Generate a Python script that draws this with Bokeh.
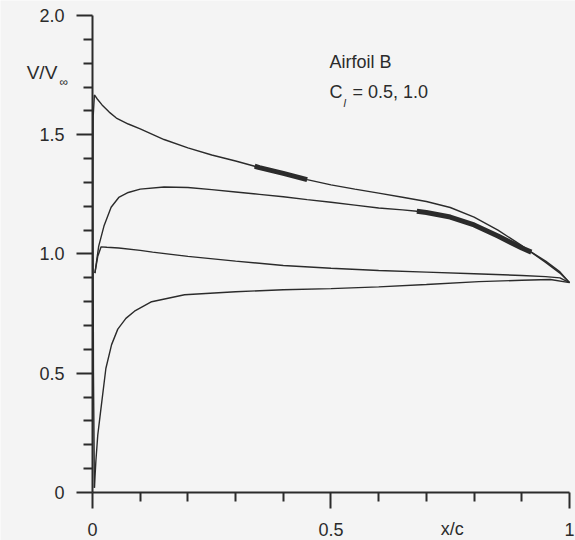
import numpy as np
from bokeh.plotting import figure
from bokeh.models import Range1d, FixedTicker, Label
from bokeh.embed import file_html
from bokeh.resources import INLINE

# ---- data (x/c, V/Vinf) ----
# Cl = 1.0, upper surface (starts at stagnation, runs up the leading edge)
cl10_upper_x = [0.004, 0.002, 0.001, 0.0015, 0.004, 0.01, 0.02, 0.035, 0.05, 0.075, 0.1, 0.15,
                0.2, 0.25, 0.3, 0.34, 0.35, 0.4, 0.45, 0.5, 0.55, 0.6, 0.65, 0.7, 0.75,
                0.8, 0.85, 0.9, 0.95, 0.98, 1.0]
cl10_upper_y = [0.02, 0.5, 1.2, 1.58, 1.667, 1.65, 1.625, 1.595, 1.57, 1.545, 1.525, 1.48,
                1.445, 1.415, 1.39, 1.368, 1.362, 1.338, 1.312, 1.29, 1.272, 1.255, 1.238, 1.22, 1.195,
                1.155, 1.1, 1.035, 0.965, 0.92, 0.88]
# Cl = 1.0, lower surface
cl10_lower_x = [0.004, 0.007, 0.011, 0.017, 0.028, 0.04, 0.053, 0.07, 0.088, 0.124, 0.193,
                0.3, 0.4, 0.5, 0.6, 0.7, 0.81, 0.9, 0.96, 1.0]
cl10_lower_y = [0.02, 0.13, 0.24, 0.34, 0.52, 0.62, 0.685, 0.73, 0.76, 0.80, 0.829,
                0.842, 0.85, 0.855, 0.862, 0.872, 0.884, 0.89, 0.893, 0.88]
# Cl = 0.5, upper surface
cl05_upper_x = [0.005, 0.013, 0.024, 0.039, 0.055, 0.075, 0.1, 0.15, 0.2, 0.25, 0.3, 0.35,
                0.4, 0.45, 0.5, 0.55, 0.6, 0.65, 0.68, 0.7, 0.75, 0.8, 0.85, 0.9, 0.92,
                0.95, 0.98, 1.0]
cl05_upper_y = [0.92, 1.033, 1.117, 1.196, 1.237, 1.258, 1.272, 1.281, 1.279, 1.27, 1.26, 1.25,
                1.24, 1.228, 1.217, 1.205, 1.193, 1.185, 1.179, 1.174, 1.155, 1.122, 1.075, 1.025, 1.008,
                0.97, 0.925, 0.88]
# Cl = 0.5, lower surface
cl05_lower_x = [0.005, 0.011, 0.018, 0.03, 0.055, 0.1, 0.126, 0.2, 0.3, 0.4, 0.5, 0.6,
                0.7, 0.8, 0.9, 0.95, 0.98, 1.0]
cl05_lower_y = [0.92, 0.99, 1.03, 1.028, 1.025, 1.015, 1.008, 0.99, 0.97, 0.952, 0.94, 0.931,
                0.924, 0.917, 0.91, 0.905, 0.9, 0.88]
# highlighted (thick) stretches
cl10_thick_range = (0.34, 0.45)
cl05_thick_range = (0.68, 0.92)

x_major = [0, 0.5, 1]
x_minor = [0.1, 0.2, 0.3, 0.4, 0.6, 0.7, 0.8, 0.9]
x_labels = {0: "0", 0.5: "0.5", 1: "1"}
y_major = [0, 0.5, 1.0, 1.5, 2.0]
y_minor = [0.1, 0.2, 0.3, 0.4, 0.6, 0.7, 0.8, 0.9, 1.1, 1.2, 1.3, 1.4, 1.6, 1.7, 1.8, 1.9]
y_labels = {0: "0", 0.5: "0.5", 1: "1.0", 1.5: "1.5", 2: "2.0"}

BG = "#f4f4f4"
INK = "#2b2b2b"
FONT = "Liberation Sans"

# frame covers the whole canvas; axes sit at x=0 / y=0 inside it
p = figure(width=575, height=540,
           x_range=Range1d(-0.1929, 1.0126), y_range=Range1d(-0.2013, 2.0629),
           output_backend="svg", toolbar_location=None,
           min_border=0, min_border_left=0, min_border_right=0,
           min_border_top=0, min_border_bottom=0)
p.background_fill_color = BG
p.border_fill_color = BG
p.outline_line_color = None
p.grid.visible = False

for ax in (p.xaxis[0], p.yaxis[0]):
    ax.fixed_location = 0
    ax.axis_line_width = 2
    ax.axis_line_color = INK
    ax.major_tick_line_width = 2
    ax.minor_tick_line_width = 2
    ax.major_tick_line_color = INK
    ax.minor_tick_line_color = INK
    ax.major_tick_in = 0
    ax.major_tick_out = 16
    ax.minor_tick_in = 0
    ax.minor_tick_out = 9
    ax.major_label_text_font = FONT
    ax.major_label_text_font_size = "18px"
    ax.major_label_text_color = INK

p.xaxis.ticker = FixedTicker(ticks=x_major, minor_ticks=x_minor)
p.xaxis.major_label_overrides = x_labels
p.xaxis.major_label_standoff = 15
p.xaxis.bounds = (0, 1)
p.yaxis.ticker = FixedTicker(ticks=y_major, minor_ticks=y_minor)
p.yaxis.major_label_overrides = y_labels
p.yaxis.major_label_standoff = 12
p.yaxis.bounds = (0, 2)

for xs, ys in [(cl10_upper_x, cl10_upper_y), (cl10_lower_x, cl10_lower_y),
               (cl05_upper_x, cl05_upper_y), (cl05_lower_x, cl05_lower_y)]:
    p.line(xs, ys, line_color=INK, line_width=1.4)

def thick(xs, ys, rng):
    xs = np.asarray(xs); ys = np.asarray(ys)
    m = (xs >= rng[0]) & (xs <= rng[1])
    p.line(xs[m], ys[m], line_color=INK, line_width=5)

thick(cl10_upper_x, cl10_upper_y, cl10_thick_range)
thick(cl05_upper_x, cl05_upper_y, cl05_thick_range)

def lab(x, y, t, size="18px", style="normal"):
    p.add_layout(Label(x=x, y=y, text=t, text_font=FONT, text_font_size=size,
                       text_font_style=style, text_color=INK, text_baseline="alphabetic"))

lab(0.497, 1.806, "Airfoil B")
lab(0.497, 1.680, "C")
lab(0.526, 1.634, "l", size="11px", style="italic")
lab(0.545, 1.680, "= 0.5, 1.0")
lab(-0.138, 1.760, "V/V", size="19px")
lab(-0.069, 1.722, "\u221e", size="12px")
lab(0.730, -0.151, "x/c")

open("out.html", "w").write(file_html(p, INLINE))
